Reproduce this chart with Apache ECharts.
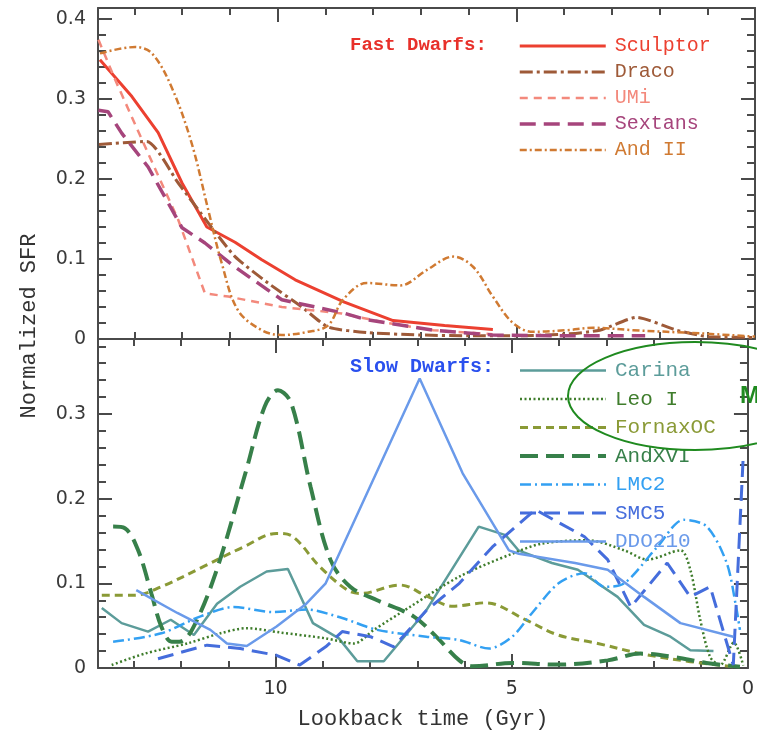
<!DOCTYPE html>
<html>
<head>
<meta charset="utf-8">
<script src="https://cdn.jsdelivr.net/npm/echarts@6/dist/echarts.min.js"></script>
<style>
html,body{margin:0;padding:0;background:#fff;}
#chart{width:757px;height:733px;}
</style>
</head>
<body>
<div id="chart"></div>
<script>
// ---------- DATA (lookback time in Gyr, normalized SFR) ----------
const fastNames = ['Sculptor','Draco','UMi','Sextans','And II'];
const slowNames = ['Carina','Leo I','FornaxOC','AndXVI','LMC2','SMC5','DDO210'];
const xTickLabels = [10, 5, 0];
const yTickLabels = [0, 0.1, 0.2, 0.3, 0.4];

const sculptor = [[13.72,0.349],[13.05,0.303],[12.5,0.258],[12.0,0.195],[11.48,0.140],[10.89,0.121],[10.33,0.099],[9.63,0.074],[8.6,0.046],[7.58,0.023],[6.5,0.017],[5.49,0.012]];
const draco = [[13.74,0.243],[12.74,0.247],[12.08,0.195],[11.45,0.145],[10.89,0.103],[10.2,0.07],[9.49,0.04],[8.94,0.015],[8.13,0.008],[7,0.005],[6,0.004],[5,0.004],[4,0.006],[3.25,0.011],[2.48,0.027],[1.64,0.011],[1.0,0.003],[0,0.002]];
const umi = [[13.75,0.374],[13.4,0.324],[12.71,0.232],[12.08,0.149],[11.52,0.057],[11.03,0.053],[9.91,0.04],[8.66,0.032],[7.71,0.02],[6.74,0.011],[5.5,0.006]];
const sextans = [[13.75,0.286],[13.55,0.284],[13.26,0.257],[12.71,0.215],[12.0,0.139],[11.52,0.12],[10.89,0.09],[9.91,0.049],[9.21,0.04],[8.59,0.032],[8.13,0.024],[6.74,0.011],[5.5,0.005],[4,0.004],[2.3,0.004]];
const andII = [[13.72,0.357],[12.98,0.365],[12.63,0.357],[12.22,0.315],[11.8,0.245],[11.45,0.161],[11.17,0.095],[10.83,0.036],[10.33,0.011],[9.91,0.005],[9.36,0.009],[8.94,0.017],[8.63,0.049],[8.13,0.07],[7.43,0.067],[6.88,0.086],[6.32,0.103],[5.9,0.09],[5.49,0.053],[5.07,0.02],[4.65,0.009],[3.94,0.011],[3.39,0.014],[2.55,0.011],[1.15,0.007],[0,0.003]];

const carina = [[13.68,0.071],[13.26,0.053],[12.7,0.043],[12.22,0.057],[11.73,0.039],[11.24,0.076],[10.75,0.096],[10.19,0.114],[9.74,0.117],[9.21,0.053],[8.66,0.035],[8.27,0.008],[7.71,0.008],[6.81,0.068],[5.7,0.167],[5.13,0.157],[4.86,0.139],[4.15,0.124],[3.6,0.116],[2.76,0.084],[2.2,0.051],[1.64,0.037],[1.22,0.021],[0.73,0.02]];
const leoI = [[13.47,0.0035],[12.77,0.017],[11.87,0.029],[11.17,0.041],[10.61,0.047],[9.91,0.042],[8.94,0.035],[8.34,0.029],[7.92,0.045],[7.16,0.072],[6.11,0.108],[4.99,0.135],[4.36,0.147],[3.39,0.151],[2.62,0.139],[2.13,0.128],[1.43,0.139],[1.22,0.116],[1.01,0.057],[0.8,0.013],[0.59,0.0035],[0.3,0.03],[0.1,0.003]];
const fornaxOC = [[13.68,0.086],[12.98,0.086],[12.42,0.096],[11.52,0.12],[10.68,0.143],[9.98,0.159],[9.63,0.155],[9.07,0.12],[8.48,0.092],[8.2,0.088],[7.37,0.098],[6.8,0.085],[6.25,0.073],[5.55,0.077],[4.71,0.057],[4.02,0.039],[3.18,0.029],[2.27,0.017],[1.22,0.0075],[0.3,0.0015]];
const andXVI = [[13.44,0.167],[13.19,0.165],[12.91,0.139],[12.63,0.088],[12.42,0.049],[12.2,0.031],[12.04,0.031],[11.77,0.045],[11.27,0.112],[10.64,0.23],[10.23,0.309],[9.95,0.328],[9.67,0.313],[9.26,0.214],[8.84,0.128],[8.42,0.096],[7.85,0.08],[7.08,0.061],[6.6,0.037],[6.11,0.009],[5.83,0.002],[4.99,0.006],[4.02,0.004],[2.97,0.009],[2.27,0.017],[1.57,0.013],[0.88,0.006],[0.17,0.0015]];
const lmc2 = [[13.44,0.031],[12.42,0.041],[11.59,0.061],[10.89,0.072],[10.05,0.066],[9.35,0.069],[8.59,0.059],[7.85,0.045],[6.81,0.037],[6.11,0.033],[5.48,0.023],[4.99,0.037],[4.57,0.065],[4.01,0.1],[3.46,0.112],[3.04,0.096],[2.62,0.1],[1.92,0.143],[1.36,0.175],[0.87,0.167],[0.45,0.124],[0.25,0.072],[0.17,0.045]];
const smc5 = [[12.49,0.011],[11.45,0.027],[10.75,0.023],[9.98,0.015],[9.49,0.0035],[8.94,0.025],[8.59,0.043],[7.99,0.037],[7.5,0.025],[6.81,0.068],[6.11,0.1],[5.41,0.143],[4.5,0.187],[3.46,0.155],[2.97,0.128],[2.48,0.072],[1.71,0.124],[1.22,0.084],[0.8,0.096],[0.31,0.0035],[0.1,0.25]];
const ddo210 = [[12.95,0.092],[12.08,0.065],[11.38,0.045],[11.03,0.029],[10.61,0.026],[9.98,0.049],[9.35,0.076],[8.94,0.1],[6.95,0.342],[6.04,0.23],[5.06,0.139],[4.85,0.135],[3.66,0.124],[2.97,0.116],[2.2,0.084],[1.43,0.053],[0.31,0.037]];

// ---------- STYLE ----------
const AX = '#4a4a4a';
const TICKFONT = 'DejaVu Sans';
const MONO = 'Liberation Mono';
const X_MAX = 13.76;
const Y0_MAX = 0.41375;
const Y1_MAX = 0.3886;

const fastStyles = {
  'Sculptor': {color:'#ec4030', width:3, type:'solid', smooth:false},
  'Draco':    {color:'#9e5a38', width:3, type:[13,4,3,4], smooth:0.2},
  'UMi':      {color:'#f3897c', width:2.5, type:[8,6], smooth:false},
  'Sextans':  {color:'#a6457c', width:3.5, type:[16,8], smooth:false},
  'And II':   {color:'#d07a32', width:2.5, type:[7,3,2,3], smooth:0.35}
};
const slowStyles = {
  'Carina':   {color:'#5c9c9a', width:2.5, type:'solid', smooth:false},
  'Leo I':    {color:'#3f7d2c', width:2.5, type:[2,2.5], smooth:0.3},
  'FornaxOC': {color:'#8a9a36', width:3, type:[8,5], smooth:0.35},
  'AndXVI':   {color:'#37804a', width:4, type:[18,8], smooth:0.35},
  'LMC2':     {color:'#33a0f2', width:2.5, type:[11,4,2,4], smooth:0.3},
  'SMC5':     {color:'#456ddc', width:3, type:[16,8], smooth:false},
  'DDO210':   {color:'#6a9aea', width:2.5, type:'solid', smooth:false}
};
const fastData = {'Sculptor':sculptor,'Draco':draco,'UMi':umi,'Sextans':sextans,'And II':andII};
const slowData = {'Carina':carina,'Leo I':leoI,'FornaxOC':fornaxOC,'AndXVI':andXVI,'LMC2':lmc2,'SMC5':smc5,'DDO210':ddo210};

function xAxisDef(grid, pos, major, labels) {
  return {
    type:'value', gridIndex:grid, position:pos, inverse:true, min:0, max:X_MAX,
    interval: major ? 5 : 1,
    axisLine:{show:major, onZero:false, lineStyle:{color:AX, width:2}},
    axisTick:{show:true, inside:true, length: major ? 14 : 7, lineStyle:{color:AX, width:2}},
    axisLabel:{show:labels, margin:12, color:'#333', fontFamily:TICKFONT, fontSize:19,
      formatter: v => (xTickLabels.indexOf(Math.round(v*1000)/1000) >= 0 ? String(Math.round(v)) : '')},
    splitLine:{show:false},
    name: labels ? 'Lookback time (Gyr)' : '',
    nameLocation:'middle', nameGap:40,
    nameTextStyle:{fontFamily:MONO, fontSize:22, color:'#333'}
  };
}
function yAxisDef(grid, pos, major, labels, maxV) {
  return {
    type:'value', gridIndex:grid, position:pos, min:0, max:maxV,
    interval: major ? 0.1 : 0.02,
    axisLine:{show:major, onZero:false, lineStyle:{color:AX, width:2}},
    axisTick:{show:true, inside:true, length: major ? 14 : 8, lineStyle:{color:AX, width:2}},
    axisLabel:{show:labels, margin:12, color:'#3a3a3a', fontFamily:TICKFONT, fontSize:19,
      formatter: v => {
        const r = Math.round(v*10)/10;
        if (Math.abs(v - r) > 1e-6 || yTickLabels.indexOf(r) < 0) return '';
        return r === 0 ? '0' : r.toFixed(1);
      }},
    splitLine:{show:false}
  };
}

const xAxes = [
  xAxisDef(0,'bottom',true,false), xAxisDef(0,'bottom',false,false),
  xAxisDef(0,'top',true,false),    xAxisDef(0,'top',false,false),
  xAxisDef(1,'bottom',true,true),  xAxisDef(1,'bottom',false,false),
  xAxisDef(1,'top',true,false),    xAxisDef(1,'top',false,false)
];
const yAxes = [
  yAxisDef(0,'left',true,true,Y0_MAX),  yAxisDef(0,'left',false,false,Y0_MAX),
  yAxisDef(0,'right',true,false,Y0_MAX),yAxisDef(0,'right',false,false,Y0_MAX),
  yAxisDef(1,'left',true,true,Y1_MAX),  yAxisDef(1,'left',false,false,Y1_MAX),
  yAxisDef(1,'right',true,false,Y1_MAX),yAxisDef(1,'right',false,false,Y1_MAX)
];

const series = [];
fastNames.forEach(n => {
  const s = fastStyles[n];
  series.push({name:n, type:'line', xAxisIndex:0, yAxisIndex:0, data:fastData[n],
    symbol:'none', smooth:s.smooth, color:s.color,
    lineStyle:{color:s.color, width:s.width, type:s.type}, z:3});
});
slowNames.forEach(n => {
  const s = slowStyles[n];
  series.push({name:n, type:'line', xAxisIndex:4, yAxisIndex:4, data:slowData[n],
    symbol:'none', smooth:s.smooth, color:s.color,
    lineStyle:{color:s.color, width:s.width, type:s.type}, z:3});
});

const chart = echarts.init(document.getElementById('chart'), null, {renderer:'canvas'});
chart.setOption({
  animation:false,
  backgroundColor:'#fff',
  grid:[
    {left:98, top:8, width:657, height:331},
    {left:98, top:339, width:657, height:329}
  ],
  xAxis:xAxes,
  yAxis:yAxes,
  legend:[
    {orient:'vertical', left:518, top:36, padding:0, itemWidth:86, itemHeight:14, itemGap:6,
     selectedMode:false, itemStyle:{opacity:0}, lineStyle:{width:'inherit'},
     data: fastNames.map(n => ({name:n, textStyle:{color:fastStyles[n].color}})),
     textStyle:{fontFamily:MONO, fontSize:20, padding:[0,0,0,4]}},
    {orient:'vertical', left:518, top:360, padding:0, itemWidth:86, itemHeight:14, itemGap:7.5,
     selectedMode:false, itemStyle:{opacity:0}, lineStyle:{width:'inherit'},
     data: slowNames.map(n => ({name:n, textStyle:{color:slowStyles[n].color}})),
     textStyle:{fontFamily:MONO, fontSize:21, padding:[0,0,0,4]}}
  ],
  graphic:[
    {type:'text', left:350, top:36, style:{text:'Fast Dwarfs:', fill:'#e8302a', font:'bold 19px "Liberation Mono"'}},
    {type:'text', left:350, top:357, style:{text:'Slow Dwarfs:', fill:'#2a50ee', font:'bold 20px "Liberation Mono"'}},
    {type:'text', x:29, y:326, rotation:Math.PI/2,
     style:{text:'Normalized SFR', fill:'#333', font:'22px "Liberation Mono"', align:'center', verticalAlign:'middle'}},
    {type:'ellipse', shape:{cx:695, cy:396, rx:127, ry:54}, style:{fill:'none', stroke:'#1f8a1f', lineWidth:2}, z:10},
    {type:'text', x:740, y:396, style:{text:'M', fill:'#1f8a1f', font:'bold 24px "Liberation Sans"', verticalAlign:'middle'}, z:10}
  ],
  series:series
});
</script>
</body>
</html>
